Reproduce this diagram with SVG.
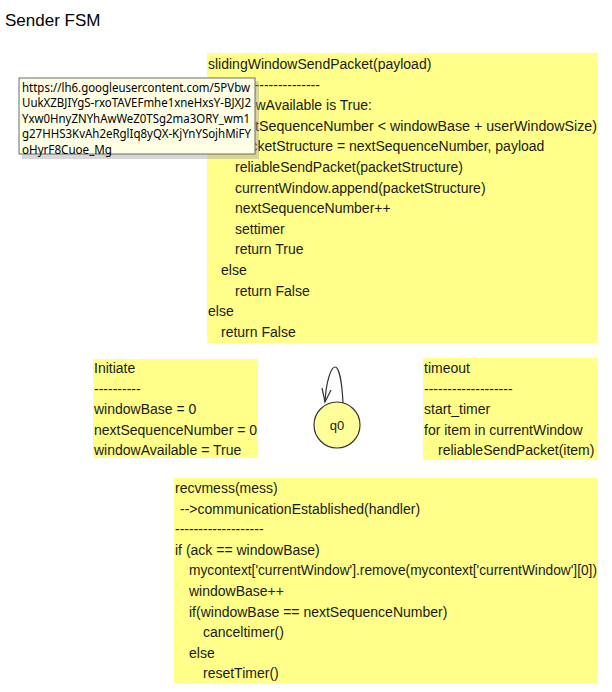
<svg xmlns="http://www.w3.org/2000/svg" width="612" height="692" viewBox="0 0 612 692">
<style>
.note{fill:#ffff8a;stroke:none}
.t{font-family:"Liberation Sans",Arial,sans-serif;font-size:14px;fill:#1a1a1a}
.tip{font-family:"Noto Sans","Open Sans",sans-serif;font-size:12.5px;fill:#000}
.edge{fill:none;stroke:#333;stroke-width:1.2}
</style>
<rect width="612" height="692" fill="#fff"/>
<text x="5" y="26" style="font-family:'Liberation Sans',Arial,sans-serif;font-size:17px;fill:#000">Sender FSM</text>

<g id="note-send">
<rect class="note" x="207" y="53" width="391" height="290"/>
<text class="t" x="208" y="69">slidingWindowSendPacket(payload)</text>
<text class="t" x="208" y="89.6">------------------------</text>
<text class="t" x="208" y="110.2">if windowAvailable is True:</text>
<text class="t" x="221" y="130.8" textLength="376" lengthAdjust="spacingAndGlyphs">if nextSequenceNumber &lt; windowBase + userWindowSize)</text>
<text class="t" x="235" y="151.4">packetStructure = nextSequenceNumber, payload</text>
<text class="t" x="235" y="172">reliableSendPacket(packetStructure)</text>
<text class="t" x="235" y="192.6">currentWindow.append(packetStructure)</text>
<text class="t" x="235" y="213.2">nextSequenceNumber++</text>
<text class="t" x="235" y="233.8">settimer</text>
<text class="t" x="235" y="254.4">return True</text>
<text class="t" x="221" y="275">else</text>
<text class="t" x="235" y="295.6">return False</text>
<text class="t" x="208" y="316.2">else</text>
<text class="t" x="221" y="336.8">return False</text>
</g>

<g id="note-initiate">
<rect class="note" x="93" y="359" width="165" height="99"/>
<text class="t" x="94" y="373">Initiate</text>
<text class="t" x="94" y="393.6">----------</text>
<text class="t" x="94" y="414.2">windowBase = 0</text>
<text class="t" x="94" y="434.8">nextSequenceNumber = 0</text>
<text class="t" x="94" y="455.4">windowAvailable = True</text>
</g>

<g id="note-timeout">
<rect class="note" x="423" y="358" width="175" height="102"/>
<text class="t" x="424" y="373">timeout</text>
<text class="t" x="424" y="393.6">-------------------</text>
<text class="t" x="424" y="414.2">start_timer</text>
<text class="t" x="424" y="434.8">for item in currentWindow</text>
<text class="t" x="438" y="455.4">reliableSendPacket(item)</text>
</g>

<g id="note-recv">
<rect class="note" x="174" y="478" width="424" height="205"/>
<text class="t" x="175" y="493">recvmess(mess)</text>
<text class="t" x="180" y="513.6">--&gt;communicationEstablished(handler)</text>
<text class="t" x="175" y="534.2">-------------------</text>
<text class="t" x="175" y="554.8">if (ack == windowBase)</text>
<text class="t" x="189" y="575.4" textLength="408" lengthAdjust="spacingAndGlyphs">mycontext['currentWindow'].remove(mycontext['currentWindow'][0])</text>
<text class="t" x="189" y="596">windowBase++</text>
<text class="t" x="189" y="616.6">if(windowBase == nextSequenceNumber)</text>
<text class="t" x="203" y="637.2">canceltimer()</text>
<text class="t" x="189" y="657.8">else</text>
<text class="t" x="203" y="678.4">resetTimer()</text>
</g>

<g id="connectors">
<path class="edge" d="M343 403 C342 382 339 367 335 367 C331 367 326 382 325 402"/>
<path class="edge" d="M322 388 L325 402 L331 390"/>
</g>

<g id="state-q0">
<circle cx="337" cy="425" r="23" fill="#ffff99" stroke="#333" stroke-width="1.2"/>
<text x="337" y="430" text-anchor="middle" style="font-family:'Liberation Sans',Arial,sans-serif;font-size:13px;fill:#1a1a1a">q0</text>
</g>

<g id="tooltip">
<rect x="22" y="81" width="237" height="78" fill="#9a9a9a" opacity="0.4"/>
<rect x="19" y="78" width="236" height="76" fill="#ffffe6" stroke="#6a6a6a" stroke-width="1"/>
<text class="tip" x="22" y="91.5" textLength="228" lengthAdjust="spacingAndGlyphs">https://lh6.googleusercontent.com/5PVbw</text>
<text class="tip" x="22" y="107" textLength="229" lengthAdjust="spacingAndGlyphs">UukXZBJIYgS-rxoTAVEFmhe1xneHxsY-BJXJ2</text>
<text class="tip" x="22" y="122.5" textLength="228" lengthAdjust="spacingAndGlyphs">Yxw0HnyZNYhAwWeZ0TSg2ma3ORY_wm1</text>
<text class="tip" x="22" y="138" textLength="229" lengthAdjust="spacingAndGlyphs">g27HHS3KvAh2eRglIq8yQX-KjYnYSojhMiFY</text>
<text class="tip" x="22" y="153.5" textLength="90" lengthAdjust="spacingAndGlyphs">oHyrF8Cuoe_Mg</text>
</g>
</svg>
